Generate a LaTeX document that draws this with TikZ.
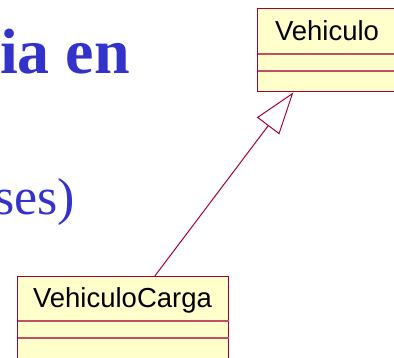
\documentclass[tikz,border=0pt]{standalone}
\usepackage{fontspec}
\setmainfont{Liberation Serif}
\newfontfamily\umlfont{Liberation Sans}
\usetikzlibrary{arrows.meta,calc}
\definecolor{titleblue}{HTML}{3333CC}
\definecolor{umlborder}{HTML}{A50034}
\definecolor{umlline}{HTML}{C0506A}
\definecolor{umlfill}{HTML}{FFFFCC}
\tikzset{
  umlbox/.style={draw=umlborder, fill=umlfill, line width=1.4pt, rectangle, inner sep=0pt, anchor=north west},
  umlname/.style={font=\umlfont\fontsize{27.5}{30}\selectfont, anchor=base, inner sep=0pt},
  umlsep/.style={draw=umlline, line width=1.2pt},
  gen/.style={draw=umlborder, line width=1pt, -{Triangle[open, length=42pt, width=28pt, fill=white]}},
  titletext/.style={text=titleblue, anchor=base west, inner sep=0pt}
}
\begin{document}
\begin{tikzpicture}[x=1pt,y=-1pt]
\useasboundingbox (0,0) rectangle (394,358);
\clip (0,0) rectangle (394,358);
\node[titletext, font=\bfseries\fontsize{64}{70}\selectfont] (t1) at (0,74) {ia en};
\node[titletext, font=\fontsize{52}{58}\selectfont] (t2) at (-6,215) {ses)};
% Vehiculo
\node[umlbox, minimum width=146pt, minimum height=83pt] (veh) at (257,8) {};
\node[umlname] (vehn) at (327,41) {Vehiculo};
\draw[umlsep] ($(veh.north west)+(0.7,46)$) -- ($(veh.north east)+(-0.7,46)$);
\draw[umlsep] ($(veh.north west)+(0.7,63)$) -- ($(veh.north east)+(-0.7,63)$);
% VehiculoCarga
\node[umlbox, minimum width=211pt, minimum height=86pt] (vc) at (17,276) {};
\node[umlname] (vcn) at (122.5,308) {VehiculoCarga};
\draw[umlsep] ($(vc.north west)+(0.7,45)$) -- ($(vc.north east)+(-0.7,45)$);
\draw[umlsep] ($(vc.north west)+(0.7,62)$) -- ($(vc.north east)+(-0.7,62)$);
% generalization
\draw[gen] ($(vc.north west)!0.649!(vc.north east)$) -- ($(veh.south west)!0.2466!(veh.south east)$);
\end{tikzpicture}
\end{document}
